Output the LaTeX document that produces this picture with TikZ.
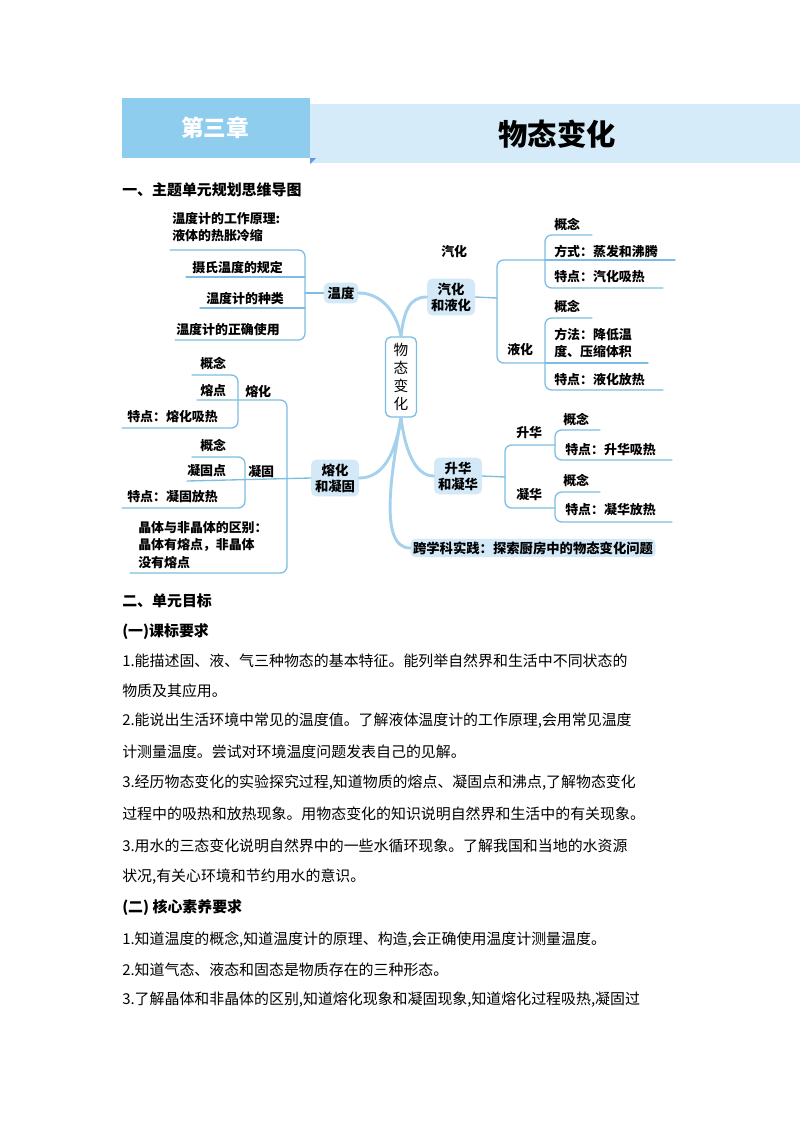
\documentclass[tikz,border=0pt]{standalone}
\usepackage{fontspec}
\setmainfont{Noto Sans CJK SC}
\usetikzlibrary{calc}
\definecolor{hdark}{HTML}{8FCDEE}
\definecolor{hlight}{HTML}{D6EBF9}
\definecolor{boxfill}{HTML}{D3E9F7}
\definecolor{lnblue}{HTML}{7DBDE2}
\definecolor{crv}{HTML}{A6D1EC}

\begin{document}
\begin{tikzpicture}[x=0.75pt, y=-0.75pt, line cap = round, line join = round]
\tikzstyle{topic}=[fill=boxfill, rounded corners=4pt, align=center, inner sep=3pt, font=\fontsize{10}{12}\selectfont\bfseries]
\tikzstyle{leaf}=[anchor=west, inner sep=0pt, align=left, font=\fontsize{9.7}{13}\selectfont\bfseries]
\tikzstyle{branch}=[draw=lnblue, line width=1pt, rounded corners=5pt]
\tikzstyle{limb}=[draw=crv, line width=2.2pt]
\tikzstyle{body}=[anchor=west, inner sep=0pt, font=\fontsize{11.2}{14}\selectfont]
\useasboundingbox (0,0) rectangle (800,1132);

% header
\fill[hlight] (310,104) rectangle (800,163);
\fill[hdark] (122,98) rectangle (310,158);
\fill[lnblue!80!blue] (310,158) -- (316,158) -- (310,164) -- cycle;
\node[text=white, font=\fontsize{17}{20}\selectfont\bfseries] (chap) at (215,128) {第三章};
\node[font=\fontsize{22}{26}\selectfont\bfseries] (title) at (557,134) {物态变化};
\node[body, font=\fontsize{11.2}{14}\selectfont\bfseries] (h1) at (122,190) {一、主题单元规划思维导图};

% centre and topics
\node[draw=lnblue, line width=1pt, fill=white, rounded corners=4pt, inner sep=3pt, align=center,
  minimum width=31pt*0.75, minimum height=60pt, font=\fontsize{11}{13.5}\selectfont] (root) at (401,377) {物\\态\\变\\化};
\node[topic] (wendu) at (341,293) {温度};
\node[topic] (qihua) at (451,297) {汽化\\和液化};
\node[topic] (ronghua) at (335,478) {熔化\\和凝固};
\node[topic] (shenghua) at (458,476) {升华\\和凝华};
\node[topic, inner sep=2pt] (kuaxue) at (533,548) {跨学科实践：探索厨房中的物态变化问题};

\draw[limb] (root.north) .. controls (396,310) and (380,293) .. (wendu.east);
\draw[limb] (root.north) .. controls (404,310) and (410,297) .. (qihua.west);
\draw[limb] (root.south) .. controls (396,450) and (385,478) .. (ronghua.east);
\draw[limb] (root.south) .. controls (405,450) and (415,476) .. (shenghua.west);
\draw[limb] (root.south) .. controls (392,470) and (378,548) .. (kuaxue.west);

% 温度
\node[leaf] (yl) at (172,227) {温度计的工作原理:\\液体的热胀冷缩};
\node[leaf] (ss) at (192,268) {摄氏温度的规定};
\node[leaf] (zl) at (206,299) {温度计的种类};
\node[leaf] (sy) at (176,330) {温度计的正确使用};
\draw[branch] (170,250) -- (305,250) -- (305,340) -- (175,340);
\draw[branch] (186,277) -- (305,277);
\draw[branch] (200,308) -- (305,308);
\draw[branch] (wendu.west) -- (305,293);

% 熔化和凝固
\node[leaf] (rh) at (245,392) {熔化};
\node[leaf] (rgn) at (200,364) {概念};
\node[leaf] (rd) at (200,391) {熔点};
\node[leaf] (rtd) at (127,417) {特点：熔化吸热};
\node[leaf] (ng) at (248,472) {凝固};
\node[leaf] (ngn) at (200,445) {概念};
\node[leaf] (ngd) at (187,471) {凝固点};
\node[leaf] (ntd) at (127,497) {特点：凝固放热};
\node[leaf, font=\fontsize{9.7}{13.2}\selectfont\bfseries] (jt) at (138,545) {晶体与非晶体的区别：\\晶体有熔点，非晶体\\没有熔点};
\draw[branch] (197,400) -- (287,400) -- (287,573) -- (130,573);
\draw[branch] (187,481) -- (ronghua.west);
\draw[branch] (192,375) -- (238,375) -- (238,428) -- (122,428);
\draw[branch] (192,457) -- (245,457) -- (245,508) -- (122,508);

% 汽化和液化
\node[leaf] (qh) at (441,252) {汽化};
\node[leaf] (qgn) at (554,225) {概念};
\node[leaf] (qfs) at (554,252) {方式：蒸发和沸腾};
\node[leaf] (qtd) at (554,277) {特点：汽化吸热};
\node[leaf] (yh) at (507,350) {液化};
\node[leaf] (ygn) at (554,307) {概念};
\node[leaf] (yff) at (554,343) {方法：降低温\\度、压缩体积};
\node[leaf] (ytd) at (554,380) {特点：液化放热};
\draw[branch] (qihua.east) -- (497,298);
\draw[branch] (545,260) -- (497,260) -- (497,363) -- (545,363);
\draw[branch] (592,235) -- (545,235) -- (545,288) -- (663,288);
\draw[branch] (545,260) -- (675,260);
\draw[branch] (592,318) -- (545,318) -- (545,390) -- (663,390);
\draw[branch] (545,363) -- (648,363);

% 升华和凝华
\node[leaf] (sh) at (516,433) {升华};
\node[leaf] (sgn) at (563,420) {概念};
\node[leaf] (std) at (565,450) {特点：升华吸热};
\node[leaf] (nh) at (516,495) {凝华};
\node[leaf] (ngn2) at (563,480) {概念};
\node[leaf] (ntd2) at (565,510) {特点：凝华放热};
\draw[branch] (shenghua.east) -- (505,477);
\draw[branch] (555,445) -- (505,445) -- (505,508) -- (555,508);
\draw[branch] (600,430) -- (555,430) -- (555,460) -- (672,460);
\draw[branch] (600,492) -- (555,492) -- (555,522) -- (672,522);

% text
\node[body, font=\fontsize{11.2}{14}\selectfont\bfseries] (h2) at (122,601) {二、单元目标};
\node[body, font=\fontsize{11.2}{14}\selectfont\bfseries] (h3) at (122,632) {(一)课标要求};
\node[body] (t1) at (122,661) {1.能描述固、液、气三种物态的基本特征。能列举自然界和生活中不同状态的};
\node[body] (t2) at (122,691) {物质及其应用。};
\node[body] (t3) at (122,721) {2.能说出生活环境中常见的温度值。了解液体温度计的工作原理,会用常见温度};
\node[body] (t4) at (122,752) {计测量温度。尝试对环境温度问题发表自己的见解。};
\node[body] (t5) at (122,783) {3.经历物态变化的实验探究过程,知道物质的熔点、凝固点和沸点,了解物态变化};
\node[body] (t6) at (122,814) {过程中的吸热和放热现象。用物态变化的知识说明自然界和生活中的有关现象。};
\node[body] (t7) at (122,846) {3.用水的三态变化说明自然界中的一些水循环现象。了解我国和当地的水资源};
\node[body] (t8) at (122,877) {状况,有关心环境和节约用水的意识。};
\node[body, font=\fontsize{11.2}{14}\selectfont\bfseries] (h4) at (122,908) {(二) 核心素养要求};
\node[body] (t9) at (122,940) {1.知道温度的概念,知道温度计的原理、构造,会正确使用温度计测量温度。};
\node[body] (t10) at (122,970) {2.知道气态、液态和固态是物质存在的三种形态。};
\node[body] (t11) at (122,1000) {3.了解晶体和非晶体的区别,知道熔化现象和凝固现象,知道熔化过程吸热,凝固过};
\end{tikzpicture}
\end{document}
